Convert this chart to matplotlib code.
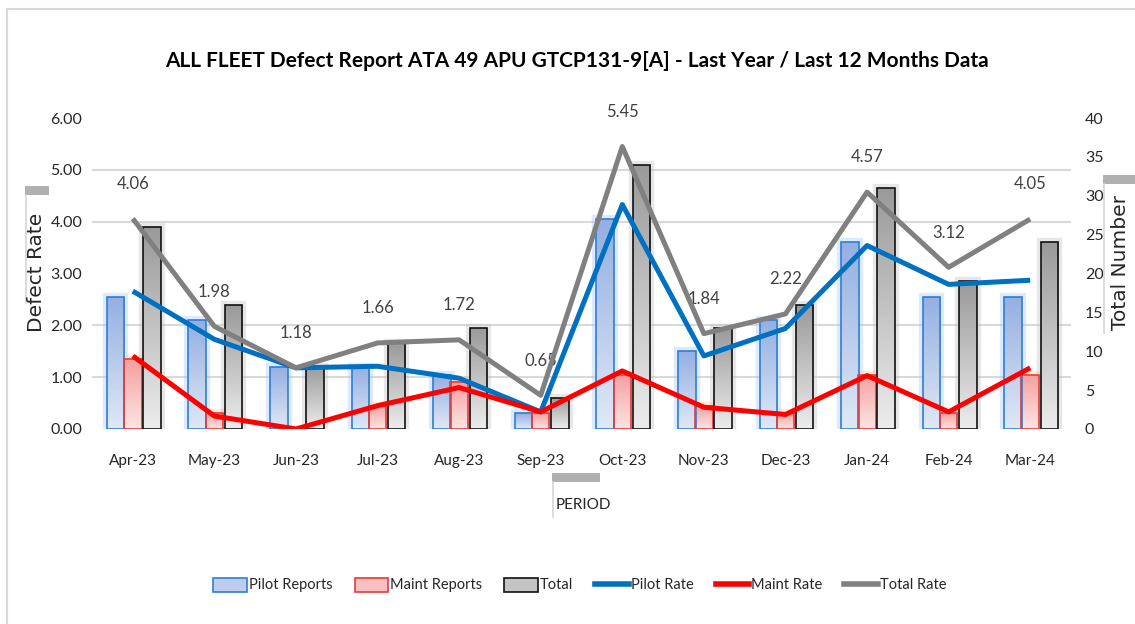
import numpy as np
import matplotlib
matplotlib.use("Agg")
import matplotlib.pyplot as plt
from matplotlib import font_manager as fm
from matplotlib.colors import LinearSegmentedColormap
from matplotlib.patches import Rectangle, Patch
from matplotlib.lines import Line2D

# ---------------- data ----------------
months = ["Apr-23", "May-23", "Jun-23", "Jul-23", "Aug-23", "Sep-23",
          "Oct-23", "Nov-23", "Dec-23", "Jan-24", "Feb-24", "Mar-24"]
pilot_reports = [17, 14, 8, 8, 7, 2, 27, 10, 14, 24, 17, 17]
maint_reports = [9, 2, 0, 3, 6, 2, 7, 3, 2, 7, 2, 7]
total_reports = [26, 16, 8, 11, 13, 4, 34, 13, 16, 31, 19, 24]
pilot_rate = [2.66, 1.73, 1.18, 1.21, 0.98, 0.33, 4.33, 1.41, 1.94, 3.54, 2.79, 2.87]
maint_rate = [1.41, 0.25, 0.00, 0.45, 0.80, 0.33, 1.12, 0.42, 0.28, 1.03, 0.33, 1.18]
total_rate = [4.06, 1.98, 1.18, 1.66, 1.72, 0.65, 5.45, 1.84, 2.22, 4.57, 3.12, 4.05]
rate_ticks = [0, 1, 2, 3, 4, 5, 6]
count_ticks = [0, 5, 10, 15, 20, 25, 30, 35, 40]

# ---------------- fonts ----------------
avail = {f.name for f in fm.fontManager.ttflist}
NARROW = "Liberation Sans Narrow" if "Liberation Sans Narrow" in avail else "Lato"
WIDE = "DejaVu Sans"

fig = plt.figure(figsize=(11.35, 6.24), dpi=100)
fig.patch.set_facecolor("white")

ax = fig.add_axes([92 / 1135, 1 - 429 / 624, (1071 - 92) / 1135, (429 - 118) / 624])
ax2 = ax.twinx()

x = np.arange(len(months))
w = 0.215

def grad_fill(axis, bars, top, bottom, z):
    cmap = LinearSegmentedColormap.from_list("g", [bottom, top])
    arr = np.linspace(0, 1, 64).reshape(-1, 1)
    for r in bars:
        h = r.get_height()
        if h <= 0:
            continue
        x0, y0, ww = r.get_x(), r.get_y(), r.get_width()
        im = axis.imshow(arr, extent=[x0, x0 + ww, y0, y0 + h], origin="lower",
                         aspect="auto", cmap=cmap, zorder=z, interpolation="bilinear")
        im.set_clip_path(r)

specs = [
    (pilot_reports, -0.21, "#2f7fd0", "#94afe2", "#dfe8f7", "#9cc3ff"),
    (maint_reports, 0.0, "#e83a3a", "#f4a0a0", "#fde4e4", "#ffc48a"),
    (total_reports, 0.235, "#111111", "#9a9a9a", "#ececec", "#bdbdbd"),
]
for vals, off, edge, top, bottom, glow in specs:
    # soft glow
    ax.bar(x + off, vals, w, facecolor="none", edgecolor=glow, linewidth=6,
           alpha=0.35, zorder=2)
    bars = ax.bar(x + off, vals, w, facecolor="none", edgecolor=edge,
                  linewidth=1.2, zorder=3)
    grad_fill(ax, bars, top, bottom, 2.5)

ax.set_xlim(-0.5, len(months) - 0.5)
ax.set_ylim(0, 40)
ax.set_yticks(count_ticks)
ax.yaxis.tick_right()
ax.set_yticks(np.linspace(0, 40, len(rate_ticks)), minor=True)
ax.grid(True, which="minor", axis="y", color="#d9d9d9", linewidth=1.5, zorder=0)
ax.set_axisbelow(True)
ax.tick_params(axis="y", which="both", length=0, pad=10, labelsize=11.5, labelcolor="#262626")
ax.tick_params(axis="x", length=0, pad=18, labelsize=11, labelcolor="#262626")
ax.set_xticks(x)
ax.set_xticklabels(months)
for lab in ax.get_xticklabels() + ax.get_yticklabels():
    lab.set_family(NARROW)

# rate lines
ax2.plot(x, pilot_rate, color="#0070c0", linewidth=3.6, zorder=5, solid_capstyle="butt")
ax2.plot(x, maint_rate, color="#ff0000", linewidth=3.6, zorder=5, solid_capstyle="butt")
ax2.plot(x, total_rate, color="#808080", linewidth=3.6, zorder=6, solid_capstyle="butt")
for xi, v in zip(x, total_rate):
    ax2.annotate(f"{v:.2f}", (xi, v), xytext=(0, 25), textcoords="offset points",
                 ha="center", va="center", fontsize=12, color="#404040", family=NARROW)
ax2.set_ylim(0, 6)
ax2.set_yticks(rate_ticks)
ax2.set_yticklabels([f"{t:.2f}" for t in rate_ticks])
ax2.yaxis.tick_left()
ax2.tick_params(axis="y", length=0, pad=7, labelsize=11.5, labelcolor="#262626")
for lab in ax2.get_yticklabels():
    lab.set_family(NARROW)

for a in (ax, ax2):
    for s in a.spines.values():
        s.set_visible(False)

# title
fig.text(0.508, 1 - 61 / 624, "ALL FLEET Defect Report ATA 49 APU GTCP131-9[A] - Last Year / Last 12 Months Data",
         ha="center", va="center", fontsize=15, fontweight="bold", family=NARROW, color="black")

# axis titles with decorations
def deco(rx0, ry0, rx1, ry1, lx, ly0, ly1):
    fig.patches.append(Rectangle((rx0 / 1135, 1 - ry1 / 624), (rx1 - rx0) / 1135, (ry1 - ry0) / 624,
                                 transform=fig.transFigure, facecolor="#b0b0b0", edgecolor="none"))
    fig.add_artist(Line2D([lx / 1135, lx / 1135], [1 - ly0 / 624, 1 - ly1 / 624],
                          transform=fig.transFigure, color="#d6d6d6", linewidth=1.2))

deco(25, 186, 49, 195, 25.5, 195, 303)
fig.text(36 / 1135, 1 - 272 / 624, "Defect Rate", rotation=90, ha="center", va="center",
         fontsize=14.5, family=WIDE, color="#262626")
deco(1103, 175, 1135, 184, 1103.5, 184, 333)
fig.text(1120 / 1135, 1 - 262 / 624, "Total Number", rotation=90, ha="center", va="center",
         fontsize=14.5, family=WIDE, color="#262626")
deco(552, 473, 600, 482, 552.5, 482, 517)
fig.text(556 / 1135, 1 - 505 / 624, "PERIOD", ha="left", va="center",
         fontsize=11, family=NARROW, color="#262626")

# border
fig.patches.append(Rectangle((7 / 1135, -0.1), 1.2, 1.1 - 9 / 624, transform=fig.transFigure,
                             fill=False, edgecolor="#d9d9d9", linewidth=1.5))

# legend
handles = [
    Patch(facecolor="#bccdee", edgecolor="#2f7fd0", linewidth=1.2),
    Patch(facecolor="#f8c0c0", edgecolor="#e83a3a", linewidth=1.2),
    Patch(facecolor="#c4c4c4", edgecolor="#111111", linewidth=1.2),
    Line2D([], [], color="#0070c0", linewidth=4),
    Line2D([], [], color="#ff0000", linewidth=4),
    Line2D([], [], color="#808080", linewidth=4),
]
labels = ["Pilot Reports", "Maint Reports", "Total", "Pilot Rate", "Maint Rate", "Total Rate"]
fig.legend(handles, labels, loc="center", bbox_to_anchor=(0.511, 1 - 585 / 624), ncol=6,
           frameon=False, handlelength=2.3, handleheight=1.1, handletextpad=0.15,
           columnspacing=1.5, prop={"family": NARROW, "size": 10.5}, labelcolor="#262626")

fig.savefig("out.png", dpi=100, facecolor="white")
